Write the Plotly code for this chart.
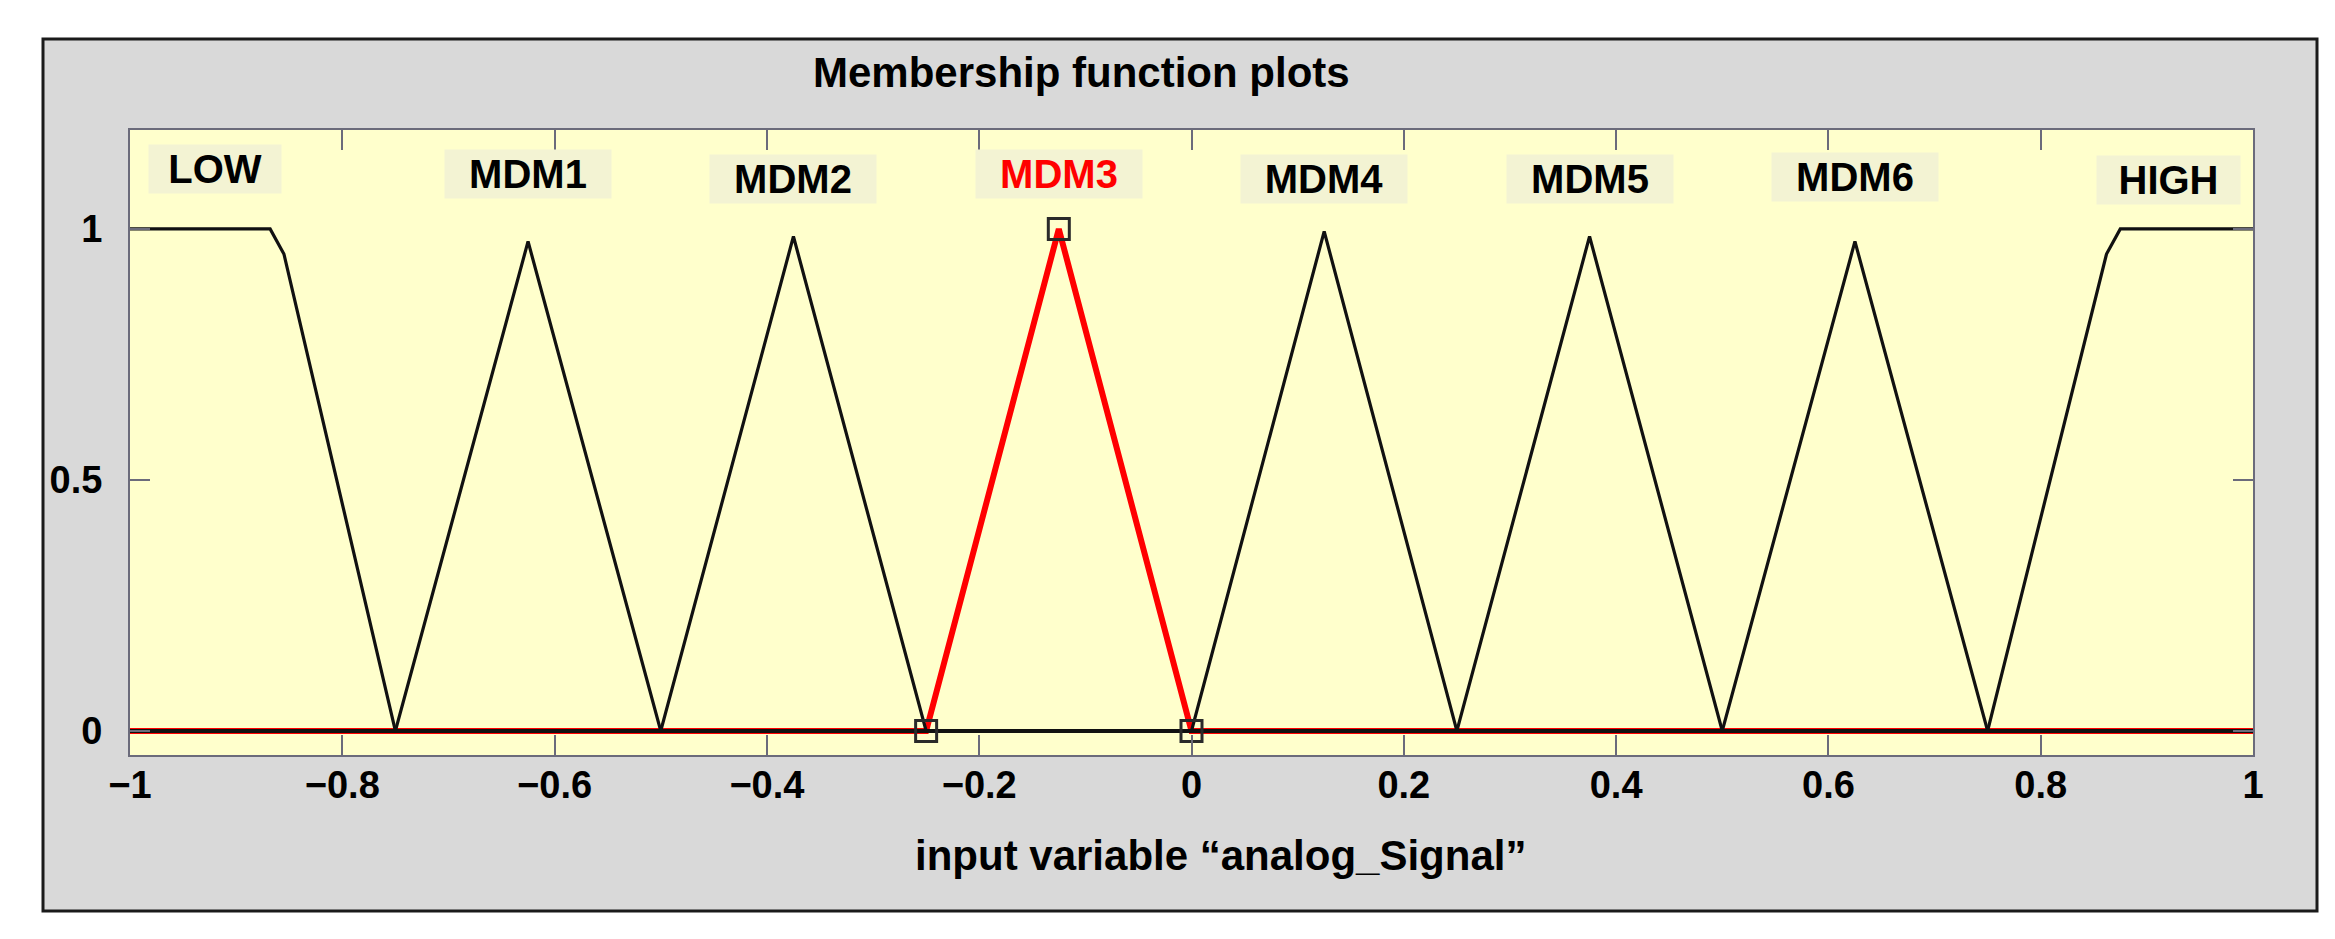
import plotly.graph_objects as go

# ---------------- data ----------------
x_range = [-1, 1]
mf_names = ["LOW", "MDM1", "MDM2", "MDM3", "MDM4", "MDM5", "MDM6", "HIGH"]
# breakpoints of each membership function (x) and their membership degree (y)
mf_x = [
    [-1.0, -0.868, -0.855, -0.75],
    [-0.75, -0.625, -0.5],
    [-0.5, -0.375, -0.25],
    [-0.25, -0.125, 0.0],
    [0.0, 0.125, 0.25],
    [0.25, 0.375, 0.5],
    [0.5, 0.625, 0.75],
    [0.75, 0.862, 0.875, 1.0],
]
mf_y = [
    [1.0, 1.0, 0.95, 0.0],
    [0.0, 0.975, 0.0],
    [0.0, 0.985, 0.0],
    [0.0, 1.0, 0.0],
    [0.0, 0.995, 0.0],
    [0.0, 0.985, 0.0],
    [0.0, 0.975, 0.0],
    [0.0, 0.95, 1.0, 1.0],
]
selected_mf = "MDM3"
label_x = [-0.92, -0.625, -0.375, -0.125, 0.125, 0.375, 0.625, 0.92]
label_y = [1.119, 1.109, 1.099, 1.109, 1.099, 1.099, 1.104, 1.098]
label_w = [130, 164, 164, 164, 164, 164, 164, 141]
x_ticks = [-1, -0.8, -0.6, -0.4, -0.2, 0, 0.2, 0.4, 0.6, 0.8, 1]
y_ticks = [0, 0.5, 1]
title_text = "Membership function plots"
xlabel_text = "input variable \u201canalog_Signal\u201d"

# ---------------- figure ----------------
W, H = 2335, 939
L, R, T, B = 122, 90, 122, 192
pw, ph = W - L - R, H - T - B


def px_to_paper_x(px):
    return (px - L) / pw


def px_to_paper_y(py):
    return (H - B - py) / ph


FONT = "Liberation Sans, Arial, sans-serif"
AXC = "#6b6b7b"

fig = go.Figure()


def full_trace(xs, ys):
    xs, ys = list(xs), list(ys)
    if xs[0] > x_range[0]:
        xs = [x_range[0]] + xs
        ys = [0.0] + ys
    if xs[-1] < x_range[1]:
        xs = xs + [x_range[1]]
        ys = ys + [0.0]
    return xs, ys


# selected (red) first, then the others in black on top
order = [mf_names.index(selected_mf)] + [i for i, n in enumerate(mf_names) if n != selected_mf]
for i in order:
    xs, ys = full_trace(mf_x[i], mf_y[i])
    sel = mf_names[i] == selected_mf
    fig.add_trace(go.Scatter(
        x=xs, y=ys, mode="lines",
        line=dict(color="#ff0000" if sel else "#111111", width=6 if sel else 3.2),
        showlegend=False, hoverinfo="skip",
    ))

# vertex markers of the selected MF
si = mf_names.index(selected_mf)
fig.add_trace(go.Scatter(
    x=mf_x[si], y=mf_y[si], mode="markers",
    marker=dict(symbol="square-open", size=21, color="#2a2a2a", line=dict(width=3, color="#2a2a2a")),
    showlegend=False, hoverinfo="skip",
))

# labels
for name, lx, ly, lw in zip(mf_names, label_x, label_y, label_w):
    fig.add_annotation(
        x=lx, y=ly, xref="x", yref="y", text=name, showarrow=False,
        font=dict(family=FONT, size=40, weight="bold", color="#ff0000" if name == selected_mf else "#000000"),
        bgcolor="#f3f3d3", width=lw, height=46, borderpad=1,
        xanchor="center", yanchor="middle",
    )

# title and x label
fig.add_annotation(
    x=px_to_paper_x(1073), y=px_to_paper_y(64), xref="paper", yref="paper",
    text=title_text, showarrow=False,
    font=dict(family=FONT, size=42, weight="bold", color="#000000"),
    xanchor="center", yanchor="middle",
)
fig.add_annotation(
    x=px_to_paper_x(1212), y=px_to_paper_y(847), xref="paper", yref="paper",
    text=xlabel_text, showarrow=False,
    font=dict(family=FONT, size=42, weight="bold", color="#000000"),
    xanchor="center", yanchor="middle",
)

# background frames
fig.add_shape(type="rect", xref="paper", yref="paper",
              x0=px_to_paper_x(35), x1=px_to_paper_x(2309),
              y0=px_to_paper_y(903), y1=px_to_paper_y(31),
              fillcolor="#d9d9d9", line=dict(color="#1a1a1a", width=3), layer="below")
fig.add_shape(type="rect", xref="paper", yref="paper", x0=0, x1=1, y0=0, y1=1,
              fillcolor="#ffffcc", line=dict(width=0), layer="below")

axis_common = dict(
    showgrid=False, zeroline=False, showline=True, linecolor=AXC, linewidth=2,
    mirror="ticks", ticks="inside", ticklen=20, tickwidth=2, tickcolor=AXC,
    tickfont=dict(family=FONT, size=38, weight="bold", color="#000000"),
)
fig.update_xaxes(range=x_range, tickvals=x_ticks, ticklabelstandoff=-5, **axis_common)
fig.update_yaxes(range=[-0.048, 1.197], tickvals=y_ticks, ticklabelstandoff=18, **axis_common)

fig.update_layout(
    width=W, height=H, autosize=False,
    margin=dict(l=L, r=R, t=T, b=B, pad=0),
    paper_bgcolor="#ffffff", plot_bgcolor="rgba(0,0,0,0)",
    showlegend=False,
)

fig.write_html("out.html")
